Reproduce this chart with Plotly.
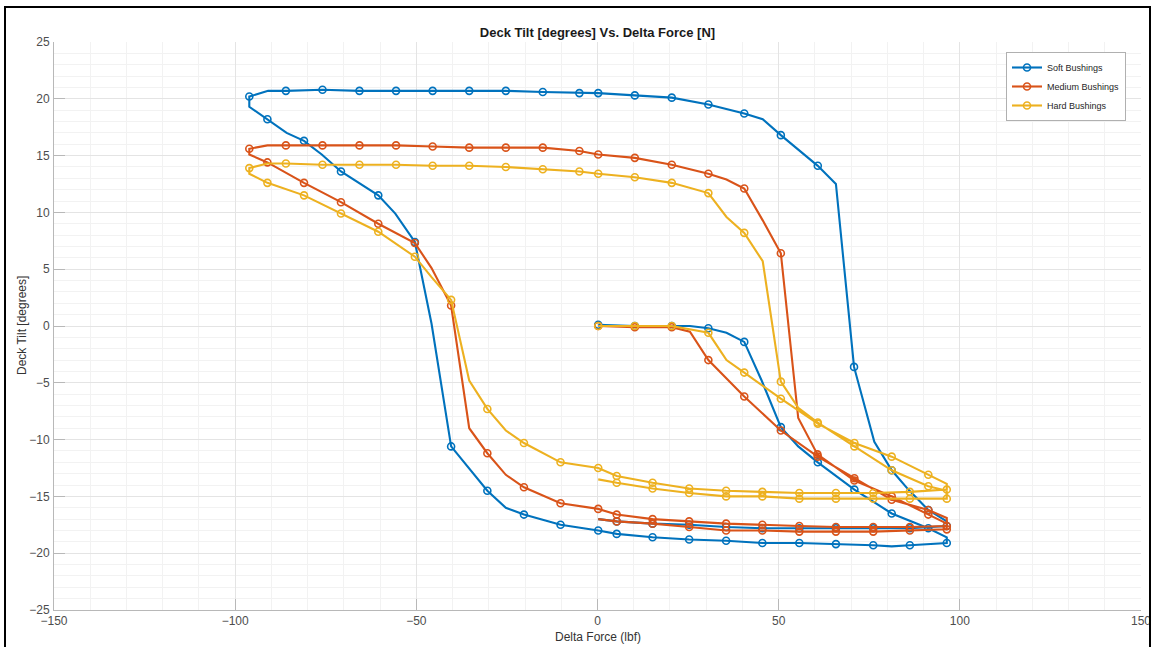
import plotly.graph_objects as go

# Hysteresis loops: deck tilt vs. applied delta force for three bushing stiffnesses.
# Each loop: initial loading 0 -> +96, unload along lower branch to -96,
# reload along upper branch to +96, then return along lower branch to 0.
# *_mark: 1 where the sample carries a marker, 0 for intermediate samples.

soft_force = [
    0.2, 10.3, 20.5, 25.5, 30.6, 35.6, 40.5, 45.3, 50.6, 55.4, 60.8, 70.9, 81.2, 91.3, 96.4,
    96.4, 86.2, 81.2, 76.1, 65.8, 55.7, 45.5, 35.5, 25.3, 15.2, 5.3, 0.2, -10.2, -20.3, -25.3,
    -30.4, -40.4, -45.8, -50.4, -55.8, -60.5, -70.8, -76.1, -81.0, -85.8, -91.1, -96.1,
    -96.1, -90.9, -86.0, -75.9, -65.7, -55.6, -45.5, -35.4, -25.3, -15.1, -5.0, 0.2, 10.3,
    20.5, 30.6, 40.5, 45.6, 50.6, 60.8, 65.8, 70.8, 76.4, 81.2, 85.8, 91.3, 96.4,
    96.4, 86.2, 76.1, 65.8, 55.7, 45.5, 35.5, 25.3, 15.2, 5.3, 0.2,
]
soft_tilt = [
    0.1, 0.0, 0.0, 0.0, -0.2, -0.6, -1.4, -4.8, -8.9, -10.6, -12.0, -14.4, -16.5, -17.8, -18.6,
    -19.1, -19.3, -19.4, -19.3, -19.2, -19.1, -19.1, -18.9, -18.8, -18.6, -18.3, -18.0, -17.5, -16.6, -16.0,
    -14.5, -10.6, 0.2, 7.4, 9.9, 11.5, 13.6, 15.1, 16.3, 17.0, 18.2, 19.3,
    20.2, 20.7, 20.7, 20.8, 20.7, 20.7, 20.7, 20.7, 20.7, 20.6, 20.5, 20.5, 20.3,
    20.1, 19.5, 18.7, 18.2, 16.8, 14.1, 12.5, -3.6, -10.2, -12.7, -14.4, -16.2, -17.2,
    -17.6, -17.8, -17.8, -17.8, -17.8, -17.8, -17.7, -17.5, -17.4, -17.2, -17.0,
]
soft_mark = [
    1, 1, 1, 0, 1, 0, 1, 0, 1, 0, 1, 1, 1, 1, 0,
    1, 1, 0, 1, 1, 1, 1, 1, 1, 1, 1, 1, 1, 1, 0,
    1, 1, 0, 1, 0, 1, 1, 0, 1, 0, 1, 0,
    1, 0, 1, 1, 1, 1, 1, 1, 1, 1, 1, 1, 1,
    1, 1, 1, 0, 1, 1, 0, 1, 0, 1, 0, 1, 0,
    1, 1, 1, 1, 1, 1, 1, 1, 1, 1, 0,
]

medium_force = [
    0.2, 10.3, 20.5, 25.5, 30.6, 40.5, 50.6, 60.8, 70.9, 81.2, 91.3, 96.4,
    96.4, 86.2, 76.1, 65.8, 55.7, 45.5, 35.5, 25.3, 15.2, 5.3, 0.2, -10.2, -20.3, -25.3,
    -30.4, -35.4, -40.4, -45.8, -50.4, -60.5, -70.8, -81.0, -91.1, -96.1,
    -96.1, -91.1, -86.0, -75.9, -65.7, -55.6, -45.5, -35.4, -25.3, -15.1, -5.0, 0.2, 10.3,
    20.5, 30.6, 35.6, 40.5, 45.6, 50.6, 55.4, 60.7, 70.9, 81.2, 91.3, 96.4,
    96.4, 86.2, 76.1, 65.8, 55.7, 45.5, 35.5, 25.3, 15.2, 5.3, 0.2,
]
medium_tilt = [
    0.0, -0.1, -0.1, -0.5, -3.0, -6.2, -9.2, -11.5, -13.4, -15.3, -16.2, -16.9,
    -17.6, -17.7, -17.7, -17.7, -17.6, -17.5, -17.4, -17.2, -17.0, -16.6, -16.1, -15.6, -14.2, -13.1,
    -11.2, -9.0, 1.8, 5.1, 7.3, 9.0, 10.9, 12.6, 14.4, 15.1,
    15.6, 15.9, 15.9, 15.9, 15.9, 15.9, 15.8, 15.7, 15.7, 15.7, 15.4, 15.1, 14.8,
    14.2, 13.4, 12.9, 12.1, 9.3, 6.4, -8.1, -11.3, -13.6, -15.0, -16.6, -17.4,
    -17.9, -18.0, -18.1, -18.1, -18.1, -18.0, -18.0, -17.7, -17.4, -17.2, -17.0,
]
medium_mark = [
    1, 1, 1, 0, 1, 1, 1, 1, 1, 1, 1, 0,
    1, 1, 1, 1, 1, 1, 1, 1, 1, 1, 1, 1, 1, 0,
    1, 0, 1, 0, 1, 1, 1, 1, 1, 0,
    1, 0, 1, 1, 1, 1, 1, 1, 1, 1, 1, 1, 1,
    1, 1, 0, 1, 0, 1, 0, 1, 1, 1, 1, 0,
    1, 1, 1, 1, 1, 1, 1, 1, 1, 1, 0,
]

hard_force = [
    0.2, 10.3, 20.5, 30.6, 35.6, 40.5, 50.6, 60.8, 70.9, 81.2, 91.3, 96.4,
    96.4, 86.2, 76.1, 65.8, 55.7, 45.5, 35.5, 25.3, 15.2, 5.3, 0.2, -10.2, -20.3, -25.3,
    -30.4, -35.4, -40.4, -45.8, -50.4, -60.5, -70.8, -81.0, -91.1, -96.1,
    -96.1, -91.1, -86.0, -75.9, -65.7, -55.6, -45.5, -35.4, -25.3, -15.1, -5.0, 0.2, 10.3,
    20.5, 30.6, 35.6, 40.5, 45.6, 50.6, 55.4, 60.8, 70.9, 81.2, 91.3, 96.4,
    96.4, 86.2, 76.1, 65.8, 55.7, 45.5, 35.5, 25.3, 15.2, 5.3, 0.2,
]
hard_tilt = [
    0.0, 0.0, 0.0, -0.6, -3.0, -4.1, -6.4, -8.6, -10.3, -11.5, -13.1, -13.9,
    -14.4, -14.6, -14.7, -14.7, -14.7, -14.6, -14.5, -14.3, -13.8, -13.2, -12.5, -12.0, -10.3, -9.2,
    -7.3, -4.8, 2.3, 4.3, 6.1, 8.3, 9.9, 11.5, 12.6, 13.4,
    13.9, 14.3, 14.3, 14.2, 14.2, 14.2, 14.1, 14.1, 14.0, 13.8, 13.6, 13.4, 13.1,
    12.6, 11.7, 9.6, 8.2, 5.7, -4.9, -7.2, -8.5, -10.6, -12.7, -14.1, -14.5,
    -15.2, -15.2, -15.2, -15.2, -15.2, -15.0, -15.0, -14.7, -14.3, -13.8, -13.5,
]
hard_mark = [
    1, 1, 1, 1, 0, 1, 1, 1, 1, 1, 1, 0,
    1, 1, 1, 1, 1, 1, 1, 1, 1, 1, 1, 1, 1, 0,
    1, 0, 1, 0, 1, 1, 1, 1, 1, 0,
    1, 0, 1, 1, 1, 1, 1, 1, 1, 1, 1, 1, 1,
    1, 1, 0, 1, 0, 1, 0, 1, 1, 1, 1, 0,
    1, 1, 1, 1, 1, 1, 1, 1, 1, 1, 0,
]

series_names = ["Soft Bushings", "Medium Bushings", "Hard Bushings"]
series_colors = ["#0072BD", "#D95319", "#EDB120"]

x_ticks = [-150, -100, -50, 0, 50, 100, 150]
y_ticks = [-25, -20, -15, -10, -5, 0, 5, 10, 15, 20, 25]

FONT = "Liberation Sans, Arial, Helvetica, sans-serif"
LINE_W = 2.1
MARK_SIZE = 7

fig = go.Figure()

series = [
    (soft_force, soft_tilt, soft_mark),
    (medium_force, medium_tilt, medium_mark),
    (hard_force, hard_tilt, hard_mark),
]

for name, color, (fx, ty, mk) in zip(series_names, series_colors, series):
    fig.add_trace(go.Scatter(
        x=fx, y=ty, mode="lines", name=name, legendgroup=name, showlegend=False,
        line=dict(color=color, width=LINE_W), hoverinfo="skip",
    ))
    mx = [x for x, m in zip(fx, mk) if m]
    my = [y for y, m in zip(ty, mk) if m]
    fig.add_trace(go.Scatter(
        x=mx, y=my, mode="markers", name=name, legendgroup=name, showlegend=False,
        marker=dict(symbol="circle-open", size=MARK_SIZE, color=color,
                    line=dict(width=1.6, color=color)),
    ))

# legend entries (line + marker sample)
for name, color in zip(series_names, series_colors):
    fig.add_trace(go.Scatter(
        x=[None], y=[None], mode="lines+markers", name=name, legendgroup=name,
        line=dict(color=color, width=LINE_W),
        marker=dict(symbol="circle-open", size=MARK_SIZE, color=color,
                    line=dict(width=1.6, color=color)),
    ))

axis_common = dict(
    automargin=False,
    showline=True, linecolor="#b8b8b8", linewidth=1, mirror=False,
    ticks="inside", ticklen=11, tickcolor="#b8b8b8", tickwidth=1,
    showgrid=True, gridcolor="#e4e4e4", gridwidth=1, zeroline=False,
    tickfont=dict(family=FONT, size=12, color="#4d4d4d"),
)

fig.update_layout(
    width=1154, height=647,
    margin=dict(l=54, r=13, t=42, b=37),
    paper_bgcolor="white", plot_bgcolor="white",
    font=dict(family=FONT, color="#262626"),
    title=dict(text="<b>Deck Tilt [degrees] Vs. Delta Force [N]</b>",
               x=0.5, xref="paper", xanchor="center",
               y=1 - 32 / 647, yanchor="middle",
               font=dict(family=FONT, size=13, color="#1a1a1a")),
    xaxis=dict(range=[-150, 150], tickvals=x_ticks, ticklabelstandoff=0,
               minor=dict(dtick=10, showgrid=True, gridcolor="#f2f2f2", ticks=""),
               **axis_common),
    yaxis=dict(range=[-25, 25], tickvals=y_ticks, ticklabelstandoff=1,
               minor=dict(dtick=1, showgrid=True, gridcolor="#f2f2f2", ticks=""),
               **axis_common),
    legend=dict(x=(1006 - 54) / 1087, y=(610 - 52) / 568, xanchor="left", yanchor="top",
                bgcolor="white", bordercolor="#b0b0b0", borderwidth=1,
                font=dict(family=FONT, size=9, color="#262626"),
                tracegroupgap=0),
    showlegend=True,
)

fig.add_annotation(text="Delta Force (lbf)", xref="paper", yref="paper",
                   x=0.5, y=(610 - 637) / 568, xanchor="center", yanchor="middle",
                   showarrow=False, font=dict(family=FONT, size=12, color="#333333"))
fig.add_annotation(text="Deck Tilt [degrees]", xref="paper", yref="paper",
                   x=(22 - 54) / 1087, y=0.5, xanchor="center", yanchor="middle",
                   textangle=-90, showarrow=False,
                   font=dict(family=FONT, size=12, color="#333333"))

# dark frame around the figure
fig.add_shape(type="rect", xref="paper", yref="paper",
              x0=(5 - 54) / 1087, x1=(1150 - 54) / 1087,
              y0=(610 - 700) / 568, y1=(610 - 7) / 568,
              line=dict(color="black", width=2), fillcolor="rgba(0,0,0,0)", layer="above")

fig.write_html("out.html")
